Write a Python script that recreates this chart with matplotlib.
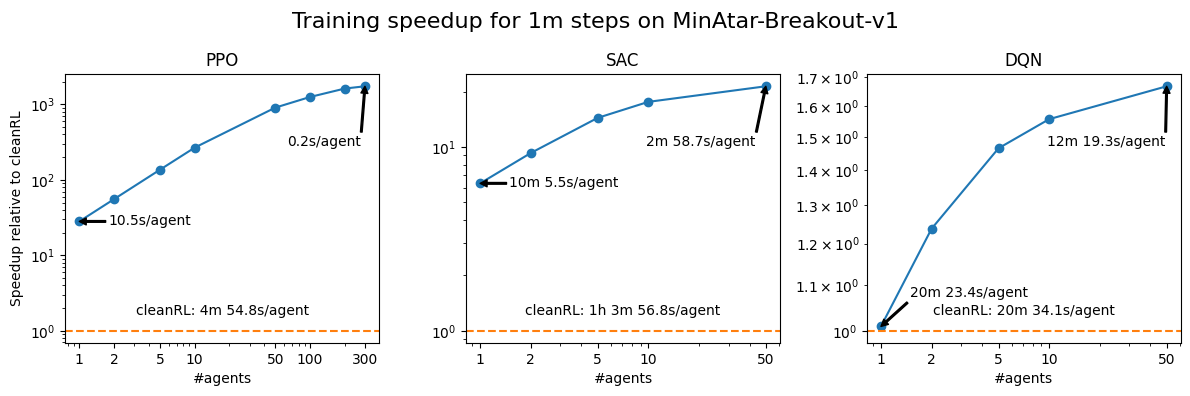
import numpy as np
import matplotlib
matplotlib.use("Agg")
import matplotlib.pyplot as plt
from matplotlib.ticker import NullFormatter

# values
ppo_agents  = [1, 2, 5, 10, 50, 100, 200, 300]
ppo_speedup = [28.1, 55.4, 136, 267, 906, 1254, 1622, 1740]
sac_agents  = [1, 2, 5, 10, 50]
sac_speedup = [6.34, 9.27, 14.4, 17.6, 21.4]
dqn_agents  = [1, 2, 5, 10, 50]
dqn_speedup = [1.009, 1.238, 1.465, 1.557, 1.668]

ppo_ticks = [1, 2, 5, 10, 50, 100, 300]
sac_ticks = [1, 2, 5, 10, 50]
dqn_ticks = [1, 2, 5, 10, 50]

titles   = ["PPO", "SAC", "DQN"]
baseline = ["cleanRL: 4m 54.8s/agent", "cleanRL: 1h 3m 56.8s/agent", "cleanRL: 20m 34.1s/agent"]
first_lbl = ["10.5s/agent", "10m 5.5s/agent", "20m 23.4s/agent"]
last_lbl  = ["0.2s/agent", "2m 58.7s/agent", "12m 19.3s/agent"]

# offsets (points) for the annotation texts
first_off = [(21, 0), (21, 0), (21, 24)]
last_off  = [(-56, -40), (-86, -40), (-86, -40)]

arrow = dict(facecolor="black", width=1.2, headwidth=5, headlength=5, shrink=0)

fig, axes = plt.subplots(1, 3, figsize=(11.9, 3.96), dpi=100)
data = [(ppo_agents, ppo_speedup, ppo_ticks),
        (sac_agents, sac_speedup, sac_ticks),
        (dqn_agents, dqn_speedup, dqn_ticks)]

for i, (ax, (x, y, ticks)) in enumerate(zip(axes, data)):
    ax.plot(x, y, marker="o", color="C0")
    ax.axhline(1, color="C1", linestyle="--")
    ax.set_xscale("log")
    ax.set_yscale("log")
    ax.set_xticks(ticks, [str(v) for v in ticks])
    ax.xaxis.set_minor_formatter(NullFormatter())
    ax.set_title(titles[i])
    ax.set_xlabel("#agents")

    ax.annotate(first_lbl[i], xy=(x[0], y[0]), xytext=first_off[i],
                textcoords="offset points", va="center", ha="left",
                arrowprops=arrow)
    ax.annotate(last_lbl[i], xy=(x[-1], y[-1]), xytext=last_off[i],
                textcoords="offset points", va="center", ha="left",
                arrowprops=arrow)
    ax.annotate(baseline[i], xy=(0.5, 1), xycoords=("axes fraction", "data"),
                xytext=(0, 9), textcoords="offset points", ha="center", va="bottom")

axes[0].set_ylabel("Speedup relative to cleanRL")
fig.suptitle("Training speedup for 1m steps on MinAtar-Breakout-v1", fontsize=16, y=0.97)
fig.subplots_adjust(left=0.0546, right=0.9924, top=0.813, bottom=0.134, wspace=0.2755)
fig.savefig("out.png", dpi=100)
